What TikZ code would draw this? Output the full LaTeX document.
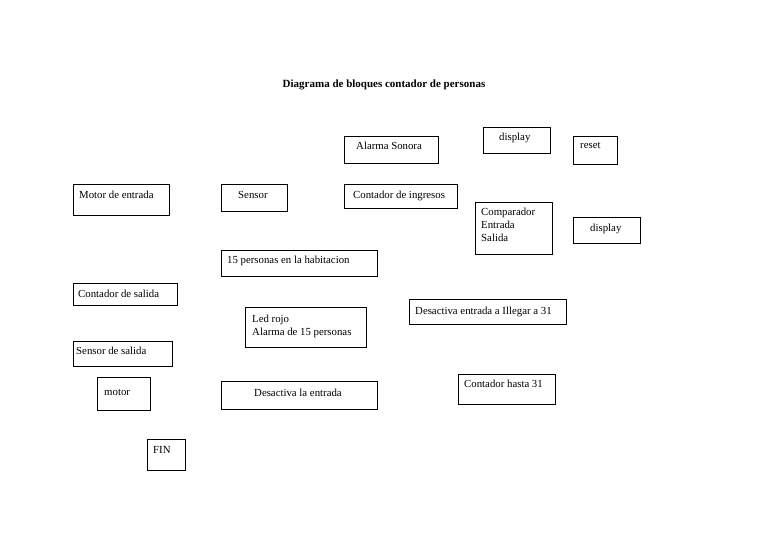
\documentclass[tikz,border=0pt]{standalone}
\usepackage{fontspec}
\setmainfont{Liberation Serif}
\begin{document}
\begin{tikzpicture}[x=1pt,y=-1pt,
  blk/.style={draw=black,line width=0.9pt,inner sep=0pt,anchor=north west},
  lbl/.style={inner sep=0pt,anchor=base west,font=\fontsize{10.8}{13}\selectfont},
  mlbl/.style={inner sep=0pt,anchor=north west,align=left,font=\fontsize{10.8}{13}\selectfont}]
\useasboundingbox[fill=white] (0,0) rectangle (768,543);
\node[inner sep=0pt,anchor=base,font=\fontsize{11}{13}\selectfont\bfseries] (title) at (384,88) {Diagrama de bloques contador de personas};
% boxes
\node[blk,minimum width=94,minimum height=27] (b1) at (344,136) {};
\node[blk,minimum width=67,minimum height=26] (b2) at (483,127) {};
\node[blk,minimum width=44,minimum height=28] (b3) at (573,136) {};
\node[blk,minimum width=96,minimum height=31] (b4) at (73,184) {};
\node[blk,minimum width=66,minimum height=27] (b5) at (221,184) {};
\node[blk,minimum width=113,minimum height=24] (b6) at (344,184) {};
\node[blk,minimum width=77,minimum height=52] (b7) at (475,202) {};
\node[blk,minimum width=67,minimum height=26] (b8) at (573,217) {};
\node[blk,minimum width=156,minimum height=26] (b9) at (221,250) {};
\node[blk,minimum width=104,minimum height=22] (b10) at (73,283) {};
\node[blk,minimum width=121,minimum height=40] (b11) at (245,307) {};
\node[blk,minimum width=157,minimum height=25] (b12) at (409,299) {};
\node[blk,minimum width=99,minimum height=25] (b13) at (73,341) {};
\node[blk,minimum width=53,minimum height=33] (b14) at (97,377) {};
\node[blk,minimum width=156,minimum height=28] (b15) at (221,381) {};
\node[blk,minimum width=97,minimum height=30] (b16) at (458,374) {};
\node[blk,minimum width=38,minimum height=31] (b17) at (147,439) {};
% labels
\node[lbl] (t1) at (356,149) {Alarma Sonora};
\node[lbl] (t2) at (499,140) {display};
\node[lbl] (t3) at (580,148) {reset};
\node[lbl] (t4) at (79,198) {Motor de entrada};
\node[lbl] (t5) at (238,198) {Sensor};
\node[lbl] (t6) at (353,198) {Contador de ingresos};
\node[mlbl] (t7) at (481,208) {Comparador\\Entrada\\Salida};
\node[lbl] (t8) at (590,231) {display};
\node[lbl] (t9) at (227,263) {15 personas en la habitacion};
\node[lbl] (t10) at (78,297) {Contador de salida};
\node[mlbl] (t11) at (252,315) {Led rojo\\Alarma de 15 personas};
\node[lbl] (t12) at (415,314) {Desactiva entrada a Illegar a 31};
\node[lbl] (t13) at (76,354) {Sensor de salida};
\node[lbl] (t14) at (104,395) {motor};
\node[lbl] (t15) at (254,396) {Desactiva la entrada};
\node[lbl] (t16) at (464,387) {Contador hasta 31};
\node[lbl] (t17) at (153,453) {FIN};
\end{tikzpicture}
\end{document}
